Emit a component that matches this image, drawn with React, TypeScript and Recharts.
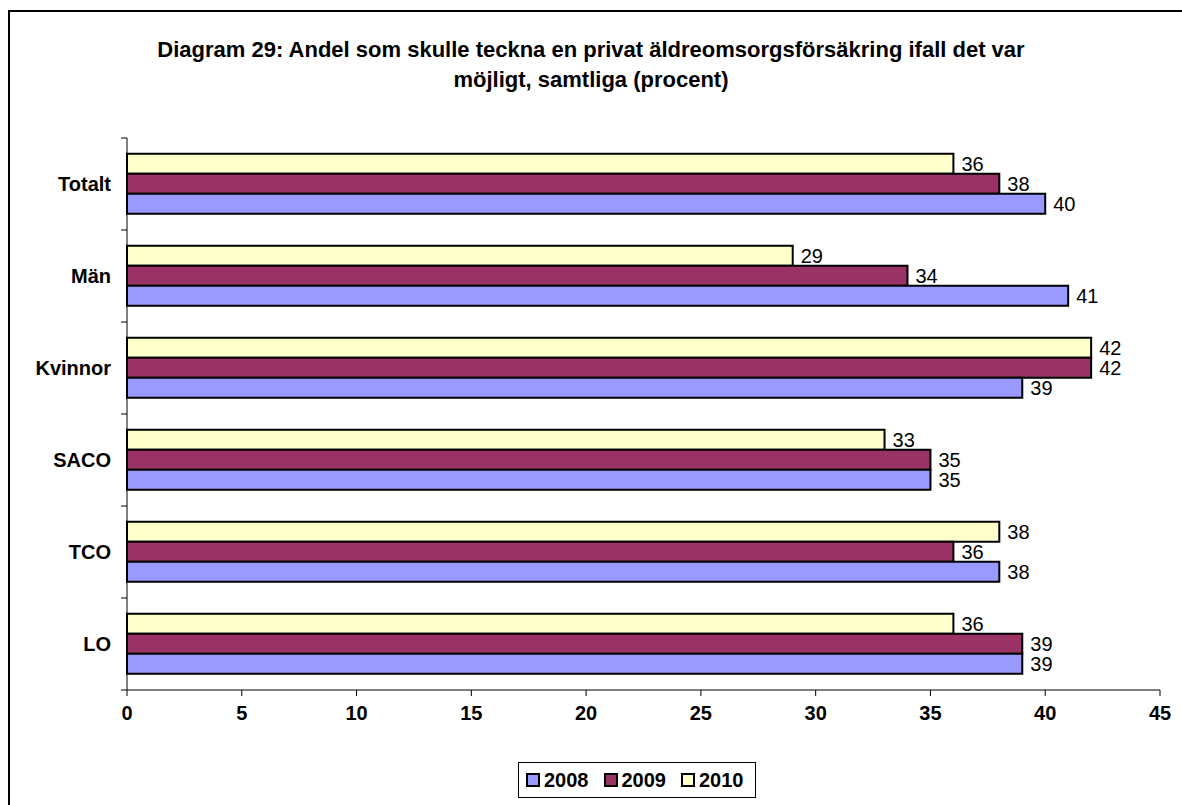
import { BarChart, Bar, XAxis, YAxis, Legend, LabelList } from "recharts";

const categories = ["Totalt", "Män", "Kvinnor", "SACO", "TCO", "LO"];
const values2008 = [40, 41, 39, 35, 38, 39];
const values2009 = [38, 34, 42, 35, 36, 39];
const values2010 = [36, 29, 42, 33, 38, 36];
const xTicks = [0, 5, 10, 15, 20, 25, 30, 35, 40, 45];

const data = categories.map((name, i) => ({
  name,
  y2008: values2008[i],
  y2009: values2009[i],
  y2010: values2010[i],
}));

const font = "Arial, 'Liberation Sans', sans-serif";

const series = [
  { key: "y2008", label: "2008", color: "#9999FF" },
  { key: "y2009", label: "2009", color: "#993366" },
  { key: "y2010", label: "2010", color: "#FFFFCC" },
];

function CategoryTick(props: any) {
  const { x, y, payload, index } = props;
  const half = payload.offset || 46;
  const ax = x + 16;
  return (
    <g>
      <line x1={ax - 6} x2={ax} y1={y - half} y2={y - half} stroke="#000" />
      {index === categories.length - 1 && (
        <line x1={ax - 6} x2={ax} y1={y + half} y2={y + half} stroke="#000" />
      )}
      <text
        x={x}
        y={y}
        dy={7}
        textAnchor="end"
        fontFamily={font}
        fontWeight="bold"
        fontSize={20}
        fill="#000"
      >
        {payload.value}
      </text>
    </g>
  );
}

function LegendBox() {
  return (
    <div
      style={{
        boxSizing: "border-box",
        height: 36,
        border: "1px solid #000",
        background: "#fff",
        display: "flex",
        alignItems: "center",
        padding: "0 11px 0 7px",
        fontFamily: font,
        fontWeight: "bold",
        fontSize: 20,
        gap: 15,
      }}
    >
      {series.map((s) => (
        <span key={s.key} style={{ display: "flex", alignItems: "center", gap: 4 }}>
          <span
            style={{
              width: 10,
              height: 10,
              background: s.color,
              border: "2px solid #000",
              display: "inline-block",
            }}
          />
          {s.label}
        </span>
      ))}
    </div>
  );
}

export default function App() {
  return (
    <div
      style={{
        position: "fixed",
        left: 0,
        top: 0,
        width: 1182,
        height: 805,
        overflow: "hidden",
        background: "#fff",
      }}
    >
      <div
        style={{
          position: "absolute",
          left: 8,
          top: 10,
          width: 1300,
          height: 900,
          borderLeft: "2px solid #000",
          borderTop: "2px solid #000",
        }}
      />
      <div
        style={{
          position: "absolute",
          left: 0,
          top: 35,
          width: 1182,
          textAlign: "center",
          fontFamily: font,
          fontWeight: "bold",
          fontSize: 22,
          lineHeight: "30px",
        }}
      >
        Diagram 29: Andel som skulle teckna en privat äldreomsorgsförsäkring ifall det var
        <br />
        möjligt, samtliga (procent)
      </div>
      <div style={{ position: "absolute", left: 0, top: 0 }}>
        <BarChart
          width={1182}
          height={805}
          data={data}
          layout="vertical"
          margin={{ top: 138, right: 22, bottom: 75, left: 27 }}
          barCategoryGap="17%"
          barGap={0}
        >
          <XAxis
            type="number"
            domain={[0, 45]}
            ticks={xTicks}
            height={40}
            tickSize={6}
            tickMargin={10}
            axisLine={{ stroke: "#000" }}
            tickLine={{ stroke: "#000" }}
            tick={{ fill: "#000", fontFamily: font, fontWeight: "bold", fontSize: 20 }}
          />
          <YAxis
            type="category"
            dataKey="name"
            width={100}
            tickLine={false}
            tickSize={0}
            tickMargin={16}
            axisLine={{ stroke: "#000" }}
            tick={<CategoryTick />}
          />
          <Legend
            layout="vertical"
            align="center"
            verticalAlign="middle"
            content={<LegendBox />}
            wrapperStyle={{ position: "absolute", left: 518, top: 762, width: "auto" }}
          />
          {[...series].reverse().map((s) => (
            <Bar
              key={s.key}
              dataKey={s.key}
              name={s.label}
              fill={s.color}
              stroke="#000"
              strokeWidth={2}
              isAnimationActive={false}
            >
              <LabelList
                dataKey={s.key}
                position="right"
                offset={8}
                fill="#000"
                fontFamily={font}
                fontSize={20}
              />
            </Bar>
          ))}
        </BarChart>
      </div>
    </div>
  );
}
